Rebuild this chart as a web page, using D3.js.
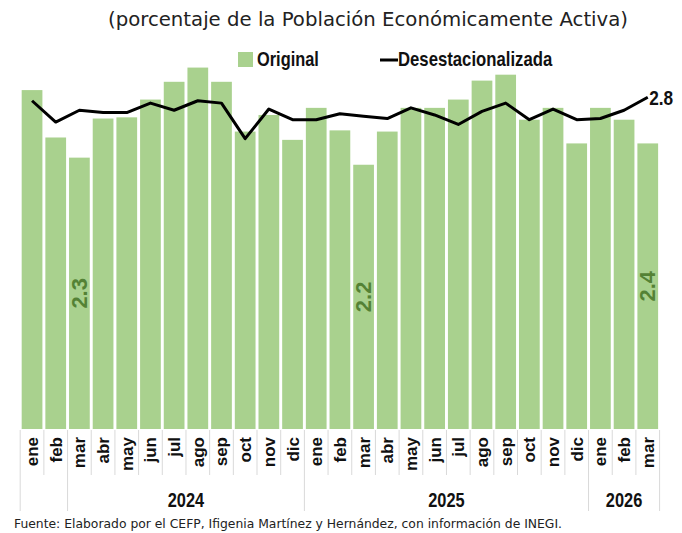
<!DOCTYPE html>
<html><head><meta charset="utf-8">
<script src="https://cdn.jsdelivr.net/npm/d3@7/dist/d3.min.js"></script>
<style>
html,body{margin:0;padding:0;background:#fff;}
svg{display:block;}
</style></head>
<body><svg id="c" width="682" height="533"></svg>
<script>
const months = ["ene","feb","mar","abr","may","jun","jul","ago","sep","oct","nov","dic",
                "ene","feb","mar","abr","may","jun","jul","ago","sep","oct","nov","dic",
                "ene","feb","mar"];
const groupLabels = ["", "2024", "2025", "2026"];
const groupSizes = [2, 10, 12, 3];
const original = [2.86,2.46,2.29,2.62,2.63,2.78,2.93,3.05,2.93,2.51,2.65,2.44,
                  2.71,2.52,2.23,2.51,2.71,2.71,2.78,2.94,2.99,2.61,2.71,2.41,
                  2.71,2.61,2.41];
const desest = [2.77,2.59,2.69,2.67,2.67,2.75,2.69,2.77,2.75,2.45,2.70,2.61,
                2.61,2.66,2.64,2.62,2.71,2.65,2.57,2.68,2.75,2.61,2.70,2.61,
                2.62,2.69,2.80];
const barLabelIdx = [2, 14, 26];
const title = "(porcentaje de la Población Económicamente Activa)";
const source = "Fuente: Elaborado por el CEFP, Ifigenia Martínez y Hernández, con información de INEGI.";
const legendNames = ["Original", "Desestacionalizada"];

const GREEN = "#A9D18E", DKGREEN = "#548235";
const SANS = "'Liberation Sans',Arial,sans-serif";
const svg = d3.select("#c");
const idx = d3.range(months.length);
const x = d3.scaleBand().domain(idx).range([20.2, 659.6]).paddingInner(0.125).paddingOuter(0.0625);
const y = d3.scaleLinear().domain([0, 3.5]).range([429, 429 - 3.5*118.5]);
const step = x.step(), half = step*x.paddingInner()/2;

function narrowText(g, tx, ty, txt, size, anchor) {
  return g.append("text").attr("transform", `translate(${tx},${ty}) scale(0.82,1)`)
    .attr("text-anchor", anchor || "start").attr("font-family", SANS).attr("font-weight","bold")
    .attr("font-size", size).attr("fill","#111").text(txt);
}

// title
svg.append("text").attr("x", 368).attr("y", 26).attr("text-anchor","middle")
  .attr("font-family","'DejaVu Sans',sans-serif").attr("font-size",20).attr("fill","#222")
  .attr("textLength",520).attr("lengthAdjust","spacingAndGlyphs").text(title);

// legend
const lg = svg.append("g");
lg.append("rect").attr("x",238).attr("y",52).attr("width",15).attr("height",15).attr("fill",GREEN);
narrowText(lg, 257, 66, legendNames[0], 20);
lg.append("line").attr("x1",380).attr("x2",398).attr("y1",60).attr("y2",60).attr("stroke","#000").attr("stroke-width",3);
narrowText(lg, 398, 66, legendNames[1], 20.4);

// bars
svg.append("g").selectAll("rect").data(idx).join("rect")
  .attr("x", i => x(i)).attr("width", x.bandwidth())
  .attr("y", i => y(original[i])).attr("height", i => y(0) - y(original[i]))
  .attr("fill", GREEN);

// bar labels
svg.append("g").selectAll("text").data(barLabelIdx).join("text")
  .attr("transform", i => `translate(${x(i)+x.bandwidth()/2},${(y(original[i])+y(0))/2}) rotate(-90)`)
  .attr("text-anchor","middle").attr("dominant-baseline","central")
  .attr("font-family",SANS).attr("font-weight","bold").attr("font-size",22)
  .attr("fill",DKGREEN).text(i => d3.format(".1f")(original[i]));

// line
const line = d3.line().x(i => x(i)+x.bandwidth()/2).y(i => y(desest[i]));
svg.append("path").datum(idx).attr("d", line).attr("fill","none").attr("stroke","#000")
  .attr("stroke-width",3).attr("stroke-linejoin","round");
const last = idx.length-1;
narrowText(svg, x(last)+x.bandwidth()/2+1.5, y(desest[last])+8, d3.format(".1f")(desest[last]), 21);

// category axis
const ax = svg.append("g");
const groupStarts = [];
let acc = 0; groupSizes.forEach(s => { groupStarts.push(acc); acc += s; });
idx.forEach(i => {
  const bx = x(i) - half;
  const isGroup = groupStarts.includes(i);
  ax.append("line").attr("x1",bx).attr("x2",bx).attr("y1",430).attr("y2", isGroup ? 511 : 475)
    .attr("stroke","#d9d9d9").attr("stroke-width",1);
});
const endX = x(last) + x.bandwidth() + half;
ax.append("line").attr("x1",endX).attr("x2",endX).attr("y1",430).attr("y2",511).attr("stroke","#d9d9d9");
ax.selectAll("text.m").data(idx).join("text").attr("class","m")
  .attr("transform", i => `translate(${x(i)+x.bandwidth()/2+6},437) rotate(-90)`)
  .attr("text-anchor","end").attr("font-family",SANS).attr("font-weight","bold")
  .attr("font-size",17).attr("fill","#111").text(i => months[i]);
groupLabels.forEach((g, k) => {
  const s = groupStarts[k], e = s + groupSizes[k] - 1;
  const cx = ((x(s) - half) + (x(e) + x.bandwidth() + half))/2;
  narrowText(ax, cx, 507, g, 20, "middle");
});

// source
svg.append("text").attr("x",14).attr("y",528).attr("font-family","'DejaVu Sans',sans-serif")
  .attr("font-size",13).attr("fill","#222").attr("textLength",548).attr("lengthAdjust","spacingAndGlyphs")
  .text(source);
</script></body></html>
